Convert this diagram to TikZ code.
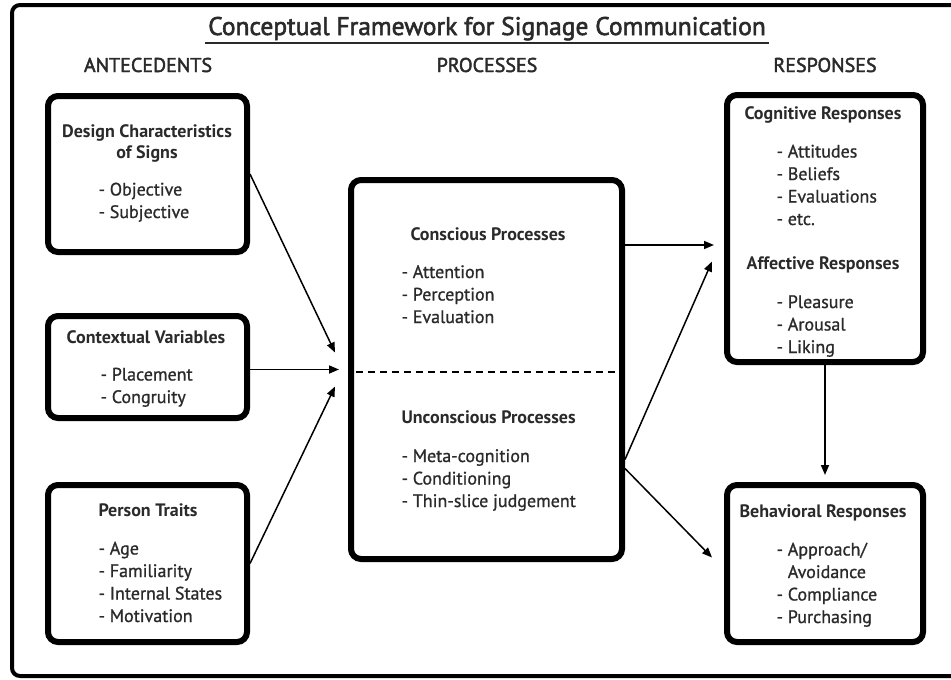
\documentclass[tikz,border=0pt]{standalone}
\usepackage{fontspec}
\setmainfont{PT Sans}
\newfontfamily\heavyfont{PT Sans}[FakeBold=2.2]
\newfontfamily\itemfont{PT Sans}[FakeBold=1]
\usepackage{tikz}
\usetikzlibrary{arrows.meta,calc,positioning}
\definecolor{FrameInk}{HTML}{2a2a2a}

\tikzset{
   frame/.style={draw,line width=4pt,rounded corners=8pt},
   box/.style={draw,line width=6pt,rounded corners=10pt,inner sep=0pt},
   colhead/.style={font=\heavyfont\fontsize{20}{24}\selectfont,text=FrameInk,anchor=base},
   boxhead/.style={font=\fontsize{18}{21}\selectfont\bfseries,text=FrameInk,align=center,anchor=base},
   items/.style={font=\itemfont\fontsize{18}{22.5}\selectfont,text=FrameInk,align=left,anchor=base west},
   arr/.style={-{Triangle[length=10pt,width=8pt]},line width=1.5pt},
   divider/.style={line width=2pt,dash pattern=on 7pt off 5pt}
}

\begin{document}
\begin{tikzpicture}[x=1pt,y=-1pt]
   \useasboundingbox (0,0) rectangle (951,680);
   \draw[frame] (12,5) rectangle (975,676);

   \node[font=\heavyfont\fontsize{25.5}{30}\selectfont,text=FrameInk,anchor=base] (title) at (487,35) {Conceptual Framework for Signage Communication};
   \draw[line width=2pt,FrameInk] ([yshift=-8pt]title.base west) -- ([yshift=-8pt]title.base east);
   \node[colhead] (hant) at (148,72) {ANTECEDENTS};
   \node[colhead] (hproc) at (487,72) {PROCESSES};
   \node[colhead] (hresp) at (825,72) {RESPONSES};

   \node[box,minimum width=199pt,minimum height=156pt] (design) at (147.5,174) {};
   \node[box,minimum width=199pt,minimum height=102pt] (context) at (147.5,367) {};
   \node[box,minimum width=199pt,minimum height=157pt] (person) at (147.5,563.5) {};
   \node[box,minimum width=271pt,minimum height=379pt] (proc) at (486.5,369.5) {};
   \node[box,minimum width=196pt,minimum height=267pt] (cogn) at (825,228.5) {};
   \node[box,minimum width=196pt,minimum height=157pt] (behav) at (825,563.5) {};

   \node[boxhead] (designT) at (147,158) {Design Characteristics\\of Signs};
   \node[items] (designL) at (95,218) {- Objective\\- Subjective};
   \node[boxhead] (contextT) at (146,343) {Contextual Variables};
   \node[items] (contextL) at (97,403) {- Placement\\- Congruity};
   \node[boxhead,anchor=base west] (personT) at (95,516) {Person Traits};
   \node[items] (personL) at (95,622) {- Age\\- Familiarity\\- Internal States\\- Motivation};

   \node[boxhead] (consT) at (488,240) {Conscious Processes};
   \node[items] (consL) at (398,323) {- Attention\\- Perception\\- Evaluation};
   \draw[divider] ([xshift=8pt,yshift=-2.5pt]proc.west) -- ([xshift=-8pt,yshift=-2.5pt]proc.east);
   \node[boxhead,anchor=base west] (uncT) at (398,423) {Unconscious Processes};
   \node[items] (uncL) at (398,507) {- Meta-cognition\\- Conditioning\\- Thin-slice judgement};

   \node[boxhead] (cognT) at (823,119) {Cognitive Responses};
   \node[items] (cognL) at (773,225) {- Attitudes\\- Beliefs\\- Evaluations\\- etc.};
   \node[boxhead] (affT) at (823,269) {Affective Responses};
   \node[items] (affL) at (773,353) {- Pleasure\\- Arousal\\- Liking};
   \node[boxhead] (behavT) at (823,517) {Behavioral Responses};
   \node[items] (behavL) at (773,623) {- Approach/\\\hphantom{- }Avoidance\\- Compliance\\- Purchasing};

   \draw[arr] (design.east) -- ([xshift=-13pt,yshift=17pt]proc.west);
   \draw[arr] (context.east |- proc.west) -- ([xshift=-9pt]proc.west);
   \draw[arr] (person.east) -- ([xshift=-13pt,yshift=-17pt]proc.west);
   \draw[arr] ([yshift=124.5pt]proc.east) -- ([xshift=-10pt,yshift=-16.5pt]cogn.west);
   \draw[arr] ([yshift=-90pt]proc.east) -- ([xshift=-12pt,yshift=-33pt]cogn.west);
   \draw[arr] ([yshift=-99pt]proc.east) -- ([xshift=-12pt,yshift=6pt]behav.west);
   \draw[arr] (cogn.south) -- ([yshift=7pt]behav.north);
\end{tikzpicture}
\end{document}
